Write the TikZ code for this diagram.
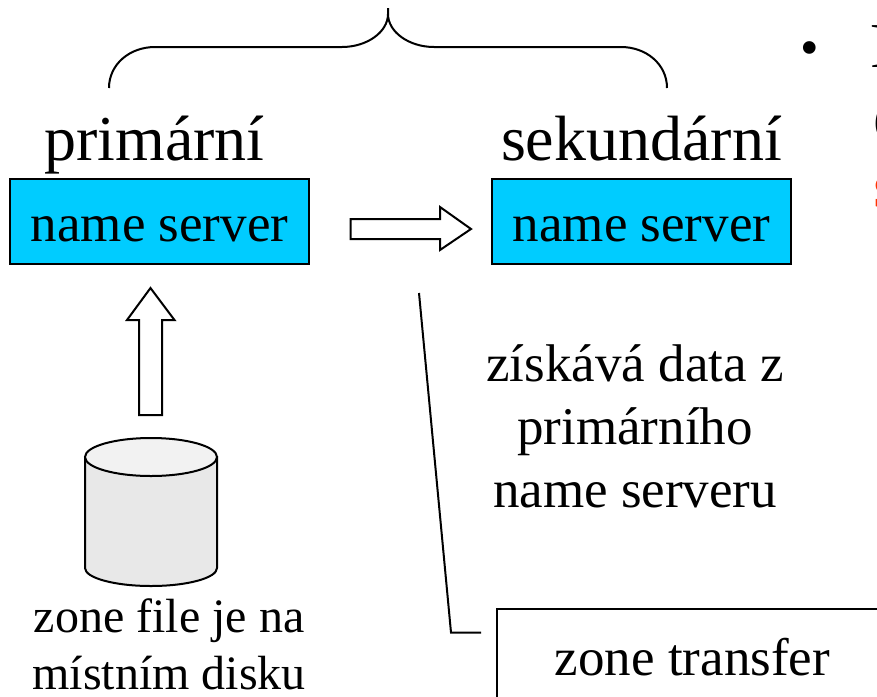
\documentclass[tikz,border=0pt]{standalone}
\usepackage{fontspec}
\setmainfont{Liberation Serif}
\definecolor{serverblue}{HTML}{00CCFF}
\definecolor{diskside}{HTML}{E8E8E8}
\definecolor{disktop}{HTML}{F2F2F2}
\definecolor{slidered}{HTML}{FF3300}
\newcommand{\bigfont}{\fontsize{64}{70}\selectfont}
\newcommand{\midfont}{\fontsize{53}{63}\selectfont}
\newcommand{\lowfont}{\fontsize{48}{57}\selectfont}
\tikzset{
  serverbox/.style={draw,line width=2pt,fill=serverblue,minimum width=299pt,text height=62pt,text depth=23pt,inner sep=0pt,font=\midfont},
  blockarrow/.style={draw,line width=2pt,fill=white,line join=miter},
  thinline/.style={draw,line width=2pt},
}
\begin{document}
\begin{tikzpicture}[x=1pt,y=-1pt]
  \useasboundingbox (0,0) rectangle (877,696);

  \begin{scope}[every node/.style={serverbox}]
    \node (primary)   at (159.5,221.5) {name server};
    \node (secondary) at (641.5,221.5) {name server};
  \end{scope}

  \begin{scope}[every node/.style={anchor=base,inner sep=0pt,font=\bigfont}]
    \node (primarylabel)   at (154.5,160) {primární};
    \node (secondarylabel) at (641.5,160) {sekundární};
  \end{scope}

  \node[anchor=base,inner sep=0pt,font=\midfont,align=center] (fetchnote) at (635,507)
    {získává data z\\primárního\\name serveru};
  \node[anchor=base,inner sep=0pt,font=\lowfont,align=center] (disknote) at (169,689)
    {zone file je na\\místním disku};
  \node[draw,line width=2pt,minimum width=391pt,minimum height=96pt,inner sep=0pt,font=\midfont] (transfer) at (692.5,657) {zone transfer};

  % brace over both servers
  \coordinate (braceleft)  at (109,88);
  \coordinate (braceright) at (667,88);
  \coordinate (bracetop)   at (388,8);
  \draw[thinline] (braceleft) .. controls (109,64) and (130,47) .. (155,47) -- (342,47)
    .. controls (367,47) and (388,32) .. (388,14) -- (bracetop);
  \draw[thinline] (braceright) .. controls (667,64) and (646,47) .. (621,47) -- (434,47)
    .. controls (409,47) and (388,32) .. (388,14);

  % block arrows
  \draw[blockarrow] (350.5,219) -- (440,219) -- (440,207) -- (471,229) -- (440,250) -- (440,239) -- (350.5,239) -- cycle;
  \draw[blockarrow] (139,415) -- (139,320) -- (127,320) -- (150.5,288) -- (174.5,320) -- (162,320) -- (162,415) -- cycle;

  % disk
  \draw[line width=2pt,fill=diskside] (85,457) -- (85,568) arc[start angle=180,end angle=0,x radius=66,y radius=18] -- (217,457) -- cycle;
  \draw[line width=2pt,fill=disktop] (151,457) ellipse[x radius=66,y radius=19];

  % callout line
  \coordinate (calloutstart) at (419,293);
  \coordinate (calloutbend)  at (451,632.5);
  \coordinate (calloutend)   at (481,632.5);
  \draw[thinline] (calloutstart) -- (calloutbend) -- (calloutend);

  % slide text cut off at the right edge
  \node[anchor=base,inner sep=0pt,font=\midfont] (bullet) at (810,65) {•};
  \begin{scope}[every node/.style={anchor=base west,inner sep=0pt,font=\bigfont}]
    \node (lineone)   at (870,67)  {P};
    \node (linetwo)   at (873,144) {C};
    \node[text=slidered] (linethree) at (873,207) {s};
  \end{scope}
\end{tikzpicture}
\end{document}
